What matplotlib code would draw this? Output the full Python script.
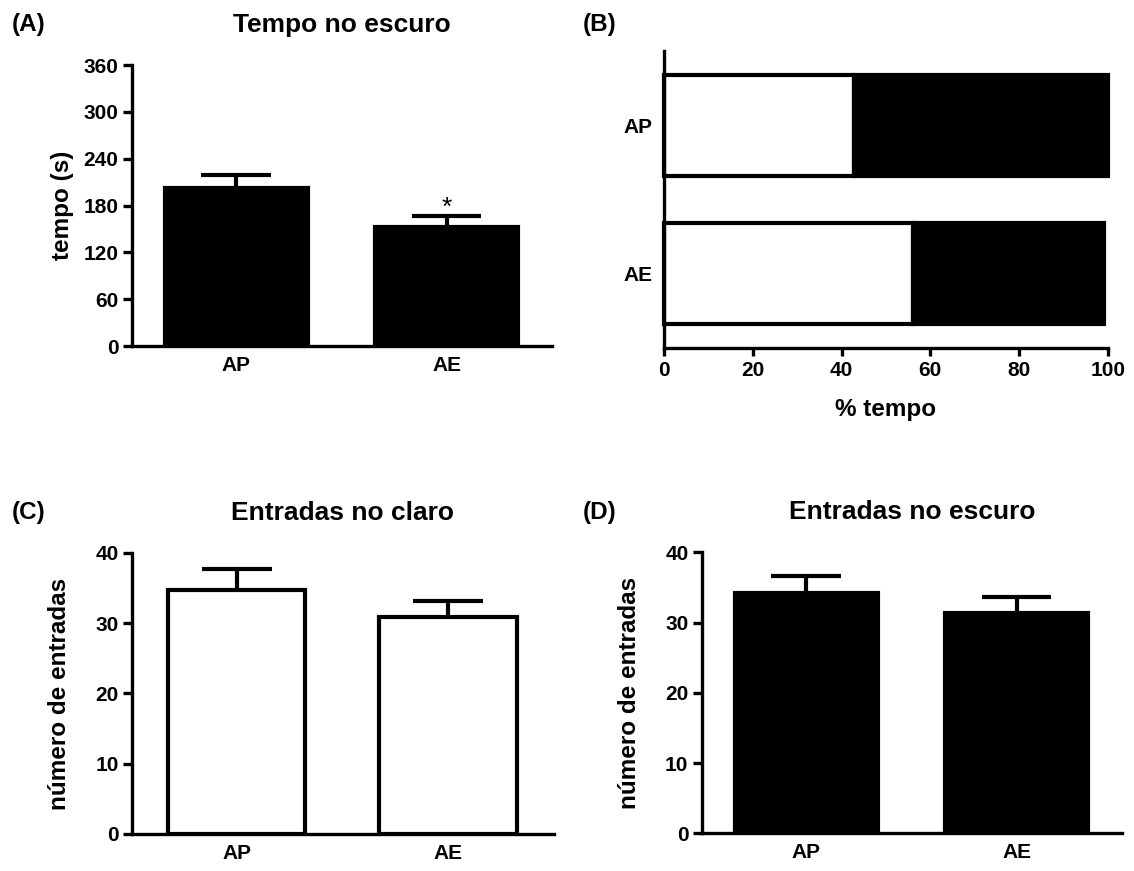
import numpy as np
import matplotlib
matplotlib.use("Agg")
import matplotlib.pyplot as plt

#------------------------------------------------------------------
# Data (mean and SEM per group)
groups = ["AP", "AE"]

# (A) tempo no escuro (s)
tempo_mean = [202.0, 152.0]
tempo_sem = [16.7, 15.0]

# (B) % tempo no claro (branco) / no escuro (preto)
pct_claro = [42.8, 56.1]
pct_escuro = [57.2, 43.0]

# (C) entradas no claro
claro_mean = [34.7, 30.9]
claro_sem = [3.0, 2.3]

# (D) entradas no escuro
escuro_mean = [34.2, 31.4]
escuro_sem = [2.5, 2.2]

LW = 3.0        # bar / error bar line width (pt)
SPINE_LW = 2.4  # axis line width (pt)
CAP = 0.165     # half width of the error cap (data units)
TICK_FS = 15

plt.rcParams['font.family'] = ['Liberation Sans', 'DejaVu Sans']
plt.rcParams['font.weight'] = 'bold'
plt.rcParams['axes.labelweight'] = 'bold'
plt.rcParams['axes.titleweight'] = 'bold'

#------------------------------------------------------------------
def style_axes(ax):
    for s in ['top', 'right']:
        ax.spines[s].set_visible(False)
    for s in ['left', 'bottom']:
        ax.spines[s].set_linewidth(SPINE_LW)

#------------------------------------------------------------------
# Vertical bars with upper SEM only (GraphPad style)
def bar_panel(ax, means, sems, face, width, ymax, ystep, ylabel, title):
    x = np.arange(len(groups))
    tops = np.add(means, sems)
    ax.vlines(x, means, tops, colors='black', linewidth=LW, zorder=1)
    ax.hlines(tops, x - CAP, x + CAP, colors='black', linewidth=LW, zorder=1)
    ax.bar(x, means, width=width, color=face, edgecolor='black',
           linewidth=LW, zorder=2)
    style_axes(ax)
    ax.set_xlim(-0.495, 1.5)
    ax.set_ylim(0, ymax)
    ax.set_yticks(np.arange(0, ymax + 1, ystep))
    ax.set_xticks(x, groups)
    ax.tick_params(axis='y', direction='out', length=6.5, width=SPINE_LW,
                   pad=3.2, labelsize=TICK_FS)
    ax.tick_params(axis='x', length=0, pad=7, labelsize=TICK_FS)
    ax.set_ylabel(ylabel, fontsize=17.5)
    ax.set_title(title, fontsize=19, pad=24)
    return x, tops

#--------------------------------------------------------------------------------
if __name__ == '__main__':
    fig = plt.figure(figsize=(11.34, 8.71), dpi=100)

    axA = fig.add_axes([0.1164, 0.6027, 0.3704, 0.3226])
    axB = fig.add_axes([0.5855, 0.6010, 0.3915, 0.3404])
    axC = fig.add_axes([0.1164, 0.0425, 0.3721, 0.3226])
    axD = fig.add_axes([0.6190, 0.0431, 0.3704, 0.3226])

    # (A)
    x, tops = bar_panel(axA, tempo_mean, tempo_sem, 'black', 0.68, 360, 60,
                        'tempo (s)', 'Tempo no escuro')
    axA.annotate('*', xy=(x[1], tops[1]), xytext=(0, 6), textcoords='offset points',
                 ha='center', va='center', fontsize=19, fontweight='normal')
    axA.yaxis.set_label_coords(-0.137, 0.5)

    # (B) stacked horizontal bars
    ypos = np.arange(len(groups))[::-1]
    axB.barh(ypos, pct_claro, height=0.68, color='white', edgecolor='black',
             linewidth=LW, clip_on=False, zorder=2)
    axB.barh(ypos, pct_escuro, left=pct_claro, height=0.68, color='black',
             edgecolor='black', linewidth=LW, clip_on=False, zorder=2)
    style_axes(axB)
    axB.set_xlim(0, 100)
    axB.set_ylim(-0.5, 1.5)
    axB.set_xticks(np.arange(0, 101, 20))
    axB.set_yticks(ypos, groups)
    axB.tick_params(axis='x', direction='out', length=6, width=SPINE_LW,
                    pad=3.6, labelsize=TICK_FS)
    axB.tick_params(axis='y', length=0, pad=8, labelsize=TICK_FS)
    axB.set_xlabel('% tempo', fontsize=17.5, labelpad=13)

    # (C)
    bar_panel(axC, claro_mean, claro_sem, 'white', 0.65, 40, 10,
              'número de entradas', 'Entradas no claro')
    axC.yaxis.set_label_coords(-0.145, 0.5)

    # (D)
    bar_panel(axD, escuro_mean, escuro_sem, 'black', 0.68, 40, 10,
              'número de entradas', 'Entradas no escuro')
    axD.yaxis.set_label_coords(-0.146, 0.5)

    # panel letters
    W, H = 1134.0, 871.0
    for letter, px, py in [('(A)', 12, 31), ('(B)', 583, 31),
                           ('(C)', 12, 519), ('(D)', 583, 519)]:
        fig.text(px / W, 1 - py / H, letter, fontsize=17.5, va='baseline', ha='left')

    fig.savefig('out.png', dpi=100)
    plt.close(fig)
